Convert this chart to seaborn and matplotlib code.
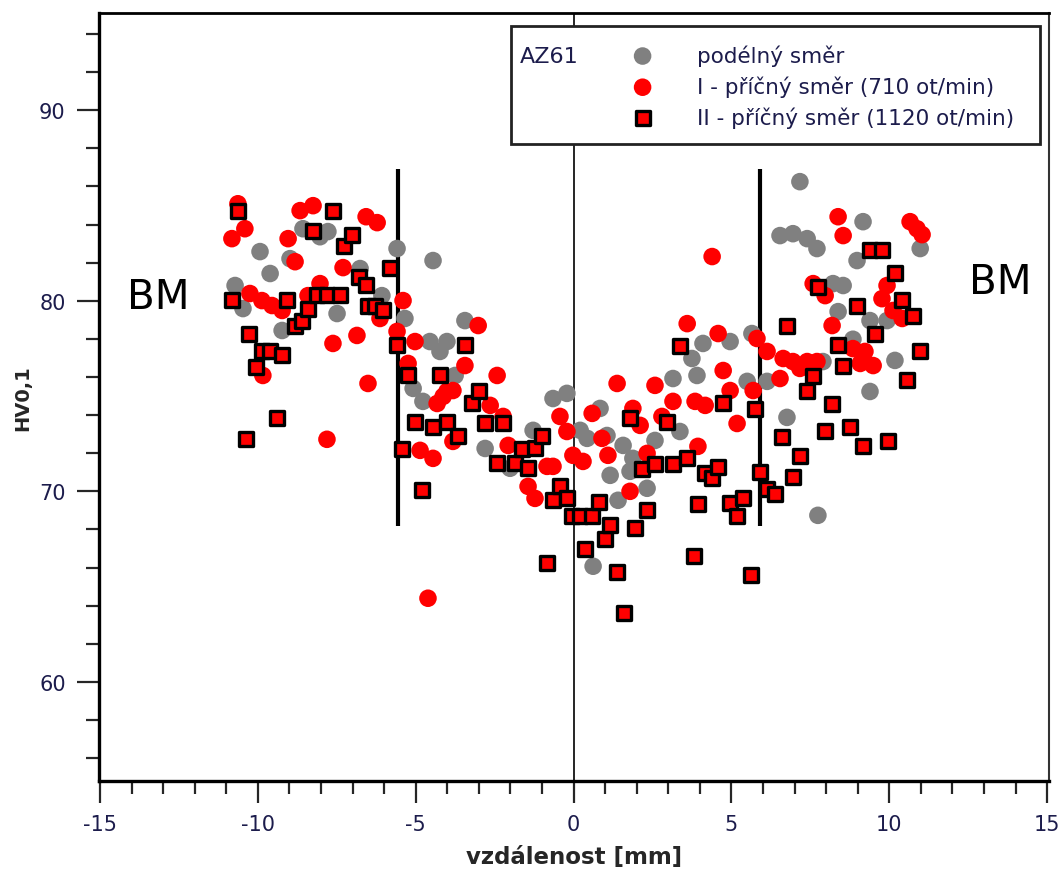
import matplotlib
matplotlib.use("Agg")
import matplotlib.pyplot as plt
from matplotlib.patches import Rectangle
from matplotlib.ticker import MultipleLocator
import seaborn as sns

# Microhardness HV0.1 across the weld, alloy AZ61
# longitudinal direction
long_x = [-10.72, -10.47, -9.93, -9.61, -9.23, -8.98, -8.57, -8.03, -7.78, -7.49,
          -6.76, -6.07, -5.59, -5.34, -5.08, -4.77, -4.55, -4.45, -4.23, -4.01,
          -3.75, -3.44, -2.80, -2.01, -1.28, -0.65, -0.21, 0.21, 0.43, 0.62,
          0.84, 1.06, 1.16, 1.41, 1.57, 1.79, 1.88, 2.33, 2.58, 3.15,
          3.37, 3.75, 3.91, 4.10, 4.96, 5.50, 5.65, 6.13, 6.54, 6.76,
          6.95, 7.17, 7.40, 7.71, 7.74, 7.90, 8.22, 8.38, 8.54, 8.85,
          8.98, 9.17, 9.39, 9.39, 9.93, 10.18, 10.98]
long_hv = [80.80, 79.59, 82.58, 81.43, 78.44, 82.21, 83.78, 83.36, 83.63, 79.33,
           81.69, 80.27, 82.74, 79.07, 75.40, 74.72, 77.86, 82.11, 77.34, 77.86,
           76.08, 78.96, 72.25, 71.21, 73.20, 74.87, 75.14, 73.20, 72.78, 66.07,
           74.35, 72.93, 70.84, 69.53, 72.41, 71.05, 71.73, 70.16, 72.67, 75.92,
           73.14, 76.97, 76.08, 77.76, 77.86, 75.77, 78.28, 75.77, 83.42, 73.88,
           83.52, 86.25, 83.26, 82.74, 68.74, 76.81, 80.90, 79.43, 80.80, 77.98,
           82.11, 84.15, 78.96, 75.24, 78.96, 76.87, 82.74]

# transverse direction I (710 rpm)
tr1_x = [-10.82, -10.63, -10.41, -10.25, -9.87, -9.84, -9.55, -9.23, -9.04, -8.82,
         -8.66, -8.41, -8.25, -8.03, -7.81, -7.62, -7.30, -6.86, -6.57, -6.51,
         -6.22, -6.13, -5.59, -5.40, -5.24, -5.02, -4.86, -4.61, -4.45, -4.32,
         -4.13, -4.01, -3.82, -3.82, -3.44, -3.02, -2.64, -2.42, -2.23, -2.07,
         -1.44, -1.22, -0.84, -0.65, -0.43, -0.21, -0.02, 0.30, 0.59, 0.90,
         1.09, 1.38, 1.79, 1.88, 2.11, 2.33, 2.58, 2.80, 3.15, 3.60,
         3.85, 3.94, 4.17, 4.39, 4.58, 4.74, 4.96, 5.18, 5.69, 5.81,
         6.13, 6.54, 6.64, 6.95, 7.17, 7.40, 7.59, 7.71, 7.97, 8.19,
         8.38, 8.54, 8.85, 9.08, 9.23, 9.49, 9.77, 9.93, 10.12, 10.41,
         10.66, 10.88, 11.04]
tr1_hv = [83.26, 85.09, 83.78, 80.38, 80.01, 76.08, 79.75, 79.49, 83.26, 82.05,
          84.73, 80.27, 84.99, 80.90, 72.73, 77.76, 81.74, 78.18, 84.41, 75.66,
          84.10, 79.07, 78.39, 80.01, 76.71, 77.86, 72.15, 64.39, 71.73, 74.61,
          74.98, 75.24, 75.29, 72.62, 76.60, 78.70, 74.51, 76.08, 73.93, 72.41,
          70.26, 69.63, 71.31, 71.31, 73.93, 73.14, 71.89, 71.57, 74.09, 72.78,
          71.89, 75.66, 70.00, 74.35, 73.46, 71.99, 75.56, 73.93, 74.72, 78.80,
          74.72, 72.36, 74.51, 82.32, 78.28, 76.34, 75.29, 73.56, 75.29, 78.02,
          77.34, 75.92, 76.97, 76.81, 76.45, 76.81, 80.90, 76.81, 80.27, 78.70,
          84.41, 83.42, 77.49, 76.71, 77.34, 76.60, 80.11, 80.80, 79.49, 79.07,
          84.15, 83.78, 83.47]

# transverse direction II (1120 rpm)
tr2_x = [-10.82, -10.63, -10.37, -10.28, -10.06, -9.87, -9.61, -9.39, -9.23, -9.08,
         -8.82, -8.60, -8.41, -8.25, -8.13, -7.81, -7.62, -7.40, -7.27, -7.02,
         -6.80, -6.57, -6.51, -6.29, -6.04, -5.81, -5.59, -5.43, -5.24, -5.02,
         -4.80, -4.45, -4.23, -4.01, -3.66, -3.44, -3.22, -2.99, -2.80, -2.42,
         -2.23, -1.85, -1.63, -1.44, -1.22, -1.00, -0.84, -0.65, -0.43, -0.21,
         -0.05, 0.21, 0.36, 0.59, 0.81, 1.00, 1.16, 1.38, 1.60, 1.79,
         1.95, 2.17, 2.33, 2.58, 2.96, 3.15, 3.37, 3.60, 3.82, 3.94,
         4.17, 4.39, 4.58, 4.74, 4.96, 5.18, 5.37, 5.62, 5.75, 5.91,
         6.13, 6.38, 6.61, 6.76, 6.95, 7.18, 7.40, 7.59, 7.74, 7.97,
         8.19, 8.38, 8.54, 8.76, 8.98, 9.17, 9.39, 9.55, 9.77, 9.96,
         10.18, 10.41, 10.56, 10.75, 10.98]
tr2_hv = [80.06, 84.73, 72.73, 78.23, 76.55, 77.34, 77.39, 73.83, 77.13, 80.06,
          78.70, 78.96, 79.59, 83.68, 80.32, 80.32, 84.73, 80.32, 82.89, 83.47,
          81.27, 80.85, 79.70, 79.70, 79.54, 81.74, 77.70, 72.20, 76.08, 73.62,
          70.05, 73.35, 76.08, 73.62, 72.88, 77.70, 74.66, 75.24, 73.56, 71.47,
          73.56, 71.47, 72.20, 71.21, 72.25, 72.88, 66.23, 69.53, 70.26, 69.63,
          68.69, 68.69, 66.96, 68.69, 69.42, 67.48, 68.22, 65.75, 63.61, 73.83,
          68.06, 71.15, 69.00, 71.42, 73.62, 71.42, 77.65, 71.73, 66.59, 69.32,
          70.94, 70.68, 71.26, 74.61, 69.37, 68.69, 69.63, 65.60, 74.30, 71.00,
          70.10, 69.84, 72.83, 78.70, 70.73, 71.83, 75.24, 76.03, 80.74, 73.14,
          74.56, 77.70, 76.60, 73.35, 79.70, 72.36, 82.68, 78.23, 82.68, 72.62,
          81.48, 80.06, 75.82, 79.22, 77.34]

series_labels = ["podélný směr",
                 "I - příčný směr (710 ot/min)",
                 "II - příčný směr (1120 ot/min)"]
material = "AZ61"

# weld zone boundaries and their drawn extent
zone_edges = [-5.56, 5.91]
zone_hv_span = (68.2, 86.9)

x_ticks = [-15, -10, -5, 0, 5, 10, 15]
y_ticks = [60, 70, 80, 90]

TEXT = "#1c1c4c"
GREY = "#808080"
RED = "#ff0000"

sns.set_style("ticks")
plt.rcParams["font.family"] = ["DejaVu Sans"]
plt.rcParams["axes.unicode_minus"] = False

fig = plt.figure(figsize=(10.64, 8.78), dpi=100)
ax = fig.add_axes([99 / 1064, 1 - 782 / 878, 950 / 1064, 768 / 878])

ax.axvline(0, color="black", lw=1.2, zorder=1)
ax.vlines(zone_edges, zone_hv_span[0], zone_hv_span[1], color="black", lw=3, zorder=1)

sns.scatterplot(x=long_x, y=long_hv, ax=ax, color=GREY, marker="o", s=160,
                edgecolor="none", linewidth=0, label=series_labels[0], zorder=2)
sns.scatterplot(x=tr1_x, y=tr1_hv, ax=ax, color=RED, marker="o", s=160,
                edgecolor="none", linewidth=0, label=series_labels[1], zorder=3)
sns.scatterplot(x=tr2_x, y=tr2_hv, ax=ax, color=RED, marker="s", s=100,
                edgecolor="black", linewidth=2.4, joinstyle="round",
                label=series_labels[2], zorder=4)

ax.set_xlim(-15.03, 15.06)
ax.set_ylim(54.8, 95.1)
ax.set_xticks(x_ticks)
ax.set_yticks(y_ticks)
ax.xaxis.set_minor_locator(MultipleLocator(1))
ax.yaxis.set_minor_locator(MultipleLocator(2))
ax.tick_params(which="major", length=16, width=1.6, direction="out",
               labelsize=15, labelcolor=TEXT, pad=8)
ax.tick_params(which="minor", length=9.5, width=1.6, direction="out")
ax.tick_params(top=False, right=False, which="both")

for side, lw, col in [("left", 2.4, "black"), ("bottom", 2.4, "black"),
                      ("top", 2.0, "black"), ("right", 1.5, "#333333")]:
    ax.spines[side].set_linewidth(lw)
    ax.spines[side].set_color(col)

ax.set_xlabel("vzdálenost [mm]", fontsize=16.5, fontweight="bold", labelpad=8)
ax.set_ylabel("HV0,1", fontsize=14, fontweight="bold", labelpad=5)

ax.text(-13.16, 80.2, "BM", fontsize=29, ha="center", va="center", color="black")
ax.text(13.51, 81.0, "BM", fontsize=29, ha="center", va="center", color="black")

# legend box with the material name on the left
ax.add_patch(Rectangle((0.434, 0.829), 0.9905 - 0.434, 0.983 - 0.829,
                       transform=ax.transAxes, facecolor="white",
                       edgecolor="#222222", lw=2, zorder=5))
ax.text(0.443, 0.944, material, transform=ax.transAxes, fontsize=16,
        ha="left", va="center", color=TEXT, zorder=6)
handles, labels = ax.get_legend_handles_labels()
leg = ax.legend(handles, labels, loc="upper left", bbox_to_anchor=(0.562, 0.9594),
                frameon=False, fontsize=15.5, handlelength=0.9, handletextpad=2.1,
                labelspacing=0.45, borderpad=0, borderaxespad=0, scatterpoints=1,
                labelcolor=TEXT)
leg.set_zorder(7)

fig.savefig("out.png", dpi=100)
